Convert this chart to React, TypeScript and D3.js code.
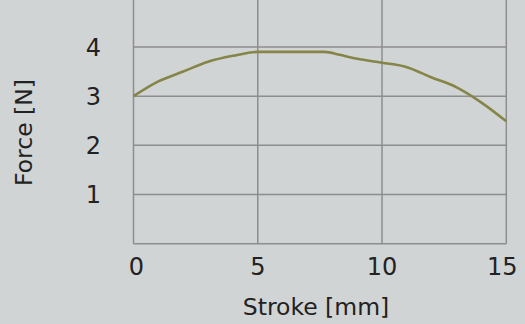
import React from "react";
import * as d3 from "d3";

const stroke = [0, 1, 2, 3, 4, 5, 6, 7, 7.7, 8.3, 9, 10, 11, 12, 13, 14, 15];
const force = [3.0, 3.3, 3.5, 3.7, 3.82, 3.9, 3.9, 3.9, 3.9, 3.84, 3.76, 3.68, 3.59, 3.38, 3.18, 2.87, 2.49];
const xTicks = [0, 5, 10, 15];
const yTicks = [1, 2, 3, 4];
const yGrid = [0, 1, 2, 3, 4, 5];

const W = 525;
const H = 324;

export default function App() {
  const x = d3.scaleLinear().domain([0, 15]).range([133.5, 506.3]);
  const y = d3.scaleLinear().domain([0, 5]).range([243.7, -2.2]);
  const line = d3
    .line<number>()
    .x((_, i) => x(stroke[i]))
    .y((d) => y(d))
    .curve(d3.curveMonotoneX);
  const font = "'DejaVu Sans', sans-serif";
  const textColor = "#222222";
  const grid = "#8d8d8d";
  return (
    <svg
      width={W}
      height={H}
      style={{ position: "absolute", left: 0, top: 0, display: "block" }}
    >
      <rect x={0} y={0} width={W} height={H} fill="#d1d4d5" />
      {yGrid.map((v) => (
        <line key={"h" + v} x1={x(0)} x2={x(15)} y1={y(v)} y2={y(v)} stroke={grid} strokeWidth={1.5} />
      ))}
      {xTicks.map((v) => (
        <line key={"v" + v} x1={x(v)} x2={x(v)} y1={y(0)} y2={y(5)} stroke={grid} strokeWidth={1.5} />
      ))}
      <path d={line(force) || ""} fill="none" stroke="#868548" strokeWidth={2.6} strokeLinejoin="round" />
      {yTicks.map((v) => (
        <text key={"yt" + v} x={101} y={y(v)} dy="0.36em" textAnchor="end" fontFamily={font} fontSize={24} fill={textColor}>
          {v}
        </text>
      ))}
      {xTicks.map((v) => (
        <text key={"xt" + v} x={x(v) + (v === 15 ? -4 : v === 0 ? 3 : 0)} y={275} textAnchor="middle" fontFamily={font} fontSize={24} fill={textColor}>
          {v}
        </text>
      ))}
      <text x={316} y={315} textAnchor="middle" fontFamily={font} fontSize={23.5} fill={textColor}>
        Stroke [mm]
      </text>
      <text
        transform={`translate(32, 132.5) rotate(-90)`}
        textAnchor="middle"
        fontFamily={font}
        fontSize={23.5}
        fill={textColor}
      >
        Force [N]
      </text>
    </svg>
  );
}
